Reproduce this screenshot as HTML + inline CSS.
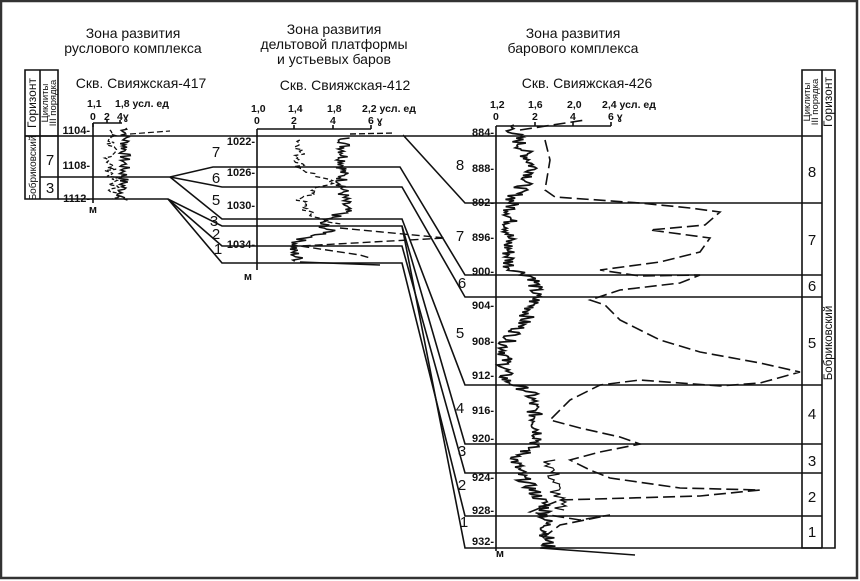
<!DOCTYPE html>
<html><head><meta charset="utf-8">
<style>
html,body{margin:0;padding:0;background:#fff;}
svg{display:block;font-family:"Liberation Sans",sans-serif;}
</style></head>
<body>
<svg id="s" width="860" height="581" viewBox="0 0 860 581" xmlns="http://www.w3.org/2000/svg">
<rect x="1" y="1" width="856" height="577" fill="#fff" stroke="#333" stroke-width="2.5"/>
<g font-size="14" text-anchor="middle" fill="#111">
<text x="133" y="38">Зона развития</text>
<text x="133" y="53">руслового  комплекса</text>
<text x="334" y="34">Зона развития</text>
<text x="334" y="49">дельтовой платформы</text>
<text x="334" y="64">и устьевых баров</text>
<text x="573" y="38">Зона развития</text>
<text x="573" y="53">барового  комплекса</text>
<text x="141" y="88">Скв. Свияжская-417</text>
<text x="345" y="90">Скв. Свияжская-412</text>
<text x="587" y="88">Скв. Свияжская-426</text>
</g>
<g font-size="10.5" fill="#111" font-weight="bold">
<text x="87" y="107">1,1</text><text x="115" y="107">1,8 усл. ед</text>
<text x="90" y="120">0</text><text x="104" y="120">2</text><text x="117" y="120">4ɣ</text>
<text x="251" y="112">1,0</text><text x="288" y="112">1,4</text><text x="327" y="112">1,8</text><text x="362" y="112">2,2 усл. ед</text>
<text x="254" y="124">0</text><text x="291" y="124">2</text><text x="330" y="124">4</text><text x="368" y="124">6 ɣ</text>
<text x="490" y="108">1,2</text><text x="528" y="108">1,6</text><text x="567" y="108">2,0</text><text x="602" y="108">2,4 усл. ед</text>
<text x="493" y="120">0</text><text x="532" y="120">2</text><text x="570" y="120">4</text><text x="608" y="120">6 ɣ</text>
</g>
<g stroke="#111" stroke-width="1.6" fill="none">
<path d="M93 123H122M93 123v4M107 123v-3M120 123v-3"/>
<path d="M257 129H371M294 129v-4M333 129v-4M371 129v-4"/>
<path d="M496 126H611M535 126v-4M573 126v-4M611 126v-4"/>
<path d="M93 123V203"/>
<path d="M257 129V270"/>
<path d="M496 126V551"/>
<path d="M25 70H58V199H25ZM40 70V199M58 136H25M40 177H58" stroke-width="1.6"/>
<path d="M802 70H835V548H802ZM822 70V548" stroke-width="1.6"/>
<path d="M25 136H822M403 135L465 203H822"/>
<path d="M58 177H170L213 167H400L465 275H822"/>
<path d="M170 177L222 187H402L465 297H822"/>
<path d="M170 177L222 219H402L465 385H822"/>
<path d="M58 199H168L222 226H402L465 444H822"/>
<path d="M168 199L222 246H402L465 473H822"/>
<path d="M168 199L222 263H402L465 516H822"/>
<path d="M402 226L465 548H822"/>
</g>
<g font-size="11" fill="#111" text-anchor="end" font-weight="bold">
<text x="90" y="134">1104-</text><text x="90" y="169">1108-</text><text x="90" y="202">1112-</text>
<text x="255" y="145">1022-</text><text x="255" y="176">1026-</text><text x="255" y="209">1030-</text><text x="255" y="248">1034-</text>
<text x="494" y="136">884-</text><text x="494" y="172">888-</text><text x="494" y="206">892-</text><text x="494" y="241">896-</text>
<text x="494" y="275">900-</text><text x="494" y="309">904-</text><text x="494" y="345">908-</text><text x="494" y="379">912-</text>
<text x="494" y="414">916-</text><text x="494" y="442">920-</text><text x="494" y="481">924-</text><text x="494" y="514">928-</text><text x="494" y="545">932-</text>
</g>
<g font-size="11" fill="#111" text-anchor="middle" font-weight="bold">
<text x="93" y="213">м</text><text x="248" y="280">м</text><text x="500" y="557">м</text>
</g>
<g font-size="15" fill="#111" text-anchor="middle">
<text x="50" y="165">7</text><text x="50" y="193">3</text>
<text x="216" y="157">7</text><text x="216" y="183">6</text><text x="216" y="205">5</text>
<text x="214" y="226">3</text><text x="216" y="239">2</text><text x="218" y="254">1</text>
<text x="460" y="170">8</text><text x="460" y="241">7</text><text x="462" y="288">6</text><text x="460" y="338">5</text>
<text x="460" y="413">4</text><text x="462" y="456">3</text><text x="462" y="490">2</text><text x="464" y="527">1</text>
<text x="812" y="177">8</text><text x="812" y="245">7</text><text x="812" y="291">6</text><text x="812" y="348">5</text>
<text x="812" y="419">4</text><text x="812" y="466">3</text><text x="812" y="502">2</text><text x="812" y="537">1</text>
</g>
<g font-size="11" fill="#111" text-anchor="middle">
<text transform="translate(36,103) rotate(-90)" font-size="12">Горизонт</text>
<text transform="translate(48,103) rotate(-90)" font-size="9.5">Циклиты</text>
<text transform="translate(56,103) rotate(-90)" font-size="9.5">III порядка</text>
<text transform="translate(36,168) rotate(-90)" font-size="10">Бобриковский</text>
<text transform="translate(832,102) rotate(-90)" font-size="12">Горизонт</text>
<text transform="translate(810,102) rotate(-90)" font-size="9.5">Циклиты</text>
<text transform="translate(818,102) rotate(-90)" font-size="9.5">III порядка</text>
<text transform="translate(832,343) rotate(-90)" font-size="11.5">Бобриковский</text>
</g>
<g id="curves" fill="none" stroke="#111"></g>
</svg>
<script>
(function(){
var seed=7;function r(){seed=(seed*9301+49297)%233280;return seed/233280-0.5;}
function interp(pts,y){for(var i=0;i<pts.length-1;i++){if(y>=pts[i][0]&&y<=pts[i+1][0]){var t=(y-pts[i][0])/(pts[i+1][0]-pts[i][0]||1);return pts[i][1]+t*(pts[i+1][1]-pts[i][1]);}}return pts[pts.length-1][1];}
function jag(pts,amp,step){var d="";var y0=pts[0][0],y1=pts[pts.length-1][0];for(var y=y0;y<=y1;y+=step){var x=interp(pts,y)+r()*amp*2;d+=(d?"L":"M")+x.toFixed(1)+" "+y.toFixed(1);}return d;}
var g=document.getElementById("curves");
function add(d,w,dash){var p=document.createElementNS("http://www.w3.org/2000/svg","path");p.setAttribute("d",d);p.setAttribute("stroke-width",w);if(dash)p.setAttribute("stroke-dasharray",dash);g.appendChild(p);}
add(jag([[128,126],[170,124],[200,122]],6,1.2),1.5);
add(jag([[130,112],[165,110],[200,116]],6,1.4),1.3,"4 2");
add("M130 134L170 131",1.2,"6 3");
add(jag([[138,345],[180,342],[212,345],[222,320],[232,330],[240,300],[250,292],[262,300]],7,1.1),1.5);
add("M300 262L380 265",1.5);
add(jag([[140,300],[168,300],[182,330],[200,300],[215,310],[225,340]],6,1.4),1.3,"5 3");
add("M340 228L445 238L300 246L360 255L370 258",1.4,"8 4");
add("M350 134L395 133",1.4,"6 3");
add(jag([[125,510],[140,518],[170,535],[200,512],[245,508],[268,510],[278,535],[300,535],[320,525],[345,505],[380,505],[392,530],[440,540],[460,515],[475,520],[505,545],[548,548]],8,1.2),1.7);
add("M540 548L635 555",1.6);
add("M520 130L585 120M545 140L550 160L545 190L555 197L640 203L690 208L720 212L705 225L650 230L710 238L700 252L660 262L600 270L640 276L700 275L680 283L620 290L590 300L605 305L620 320L660 340L700 352L760 363L800 372L760 383L720 386L640 380L600 385L570 400L560 410L550 420L580 428L620 437L640 444L600 452L570 460L590 470L610 478L680 488L760 490L700 496L560 500L530 512L580 520L610 515L560 525L540 540",1.6,"12 5");
add(jag([[460,550],[510,560]],8,2),1.2);
})();
</script>
</body></html>
